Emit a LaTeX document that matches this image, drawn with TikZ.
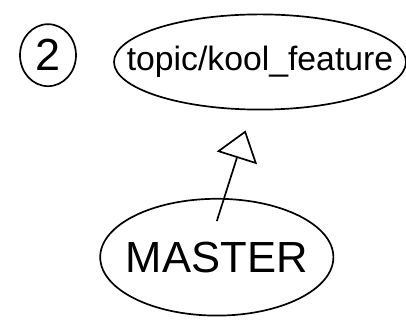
\documentclass[tikz,border=0pt]{standalone}
\usepackage{fontspec}
\setmainfont{Liberation Sans}
\usetikzlibrary{shapes.geometric,arrows.meta}

\tikzset{
    sketch/.style={line width=1.2pt, black},
    branch/.style={sketch, draw, ellipse, inner sep=0pt},
}

\begin{document}
\begin{tikzpicture}
    \useasboundingbox (0,0) rectangle (10.15,8);

    % Nodes (Branches)
    \node[branch, minimum width=1.4cm, minimum height=1.55cm] (num) at (1.2,6.62) {\makebox[0.5cm]{\fontsize{32}{32}\selectfont 2}};
    \node[branch, minimum width=7.3cm, minimum height=2.38cm] (topic) at (6.5,6.45) {\makebox[4cm]{\fontsize{24}{24}\selectfont topic/kool\_feature}};
    \node[branch, minimum width=5.83cm, minimum height=2.92cm] (master) at (5.42,1.57) {\makebox[3cm]{\raisebox{-0.1cm}{\fontsize{31}{31}\selectfont MASTER}}};

    % Edges
    % master -> topic
    \draw[sketch, -{Triangle[open, length=0.72cm, width=1.05cm]}]
        ([yshift=-0.58cm]master.north) -- ([xshift=-0.36cm, yshift=-0.5cm]topic.south);
\end{tikzpicture}
\end{document}
